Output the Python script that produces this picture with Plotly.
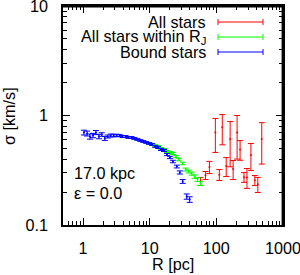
import plotly.graph_objects as go

# ---------------- data ----------------
blue_R = [1.03, 1.15, 1.27, 1.41, 1.56, 1.73, 1.91, 2.12, 2.35, 2.60, 2.88, 3.19,
          3.53, 3.92, 4.34, 4.80, 5.32, 5.89, 6.53, 7.23, 8.01, 8.87, 9.83, 10.9,
          12.1, 13.4, 14.8, 16.4, 18.2, 20.1, 22.3, 25.5, 28.3, 31.3, 35.9, 39.8]
blue_sigma = [0.699, 0.685, 0.643, 0.657, 0.699, 0.643, 0.671, 0.617, 0.643, 0.657,
              0.657, 0.657, 0.657, 0.643, 0.643, 0.630, 0.630, 0.617, 0.604, 0.591,
              0.579, 0.567, 0.555, 0.543, 0.521, 0.510, 0.489, 0.479, 0.440, 0.414,
              0.380, 0.342, 0.302, 0.250, 0.182, 0.171]
blue_err = [0.035, 0.035, 0.035, 0.03, 0.03, 0.03, 0.025, 0.025, 0.02, 0.02,
            0.018, 0.016, 0.015, 0.014, 0.013, 0.012, 0.012, 0.012, 0.011, 0.011,
            0.011, 0.010, 0.010, 0.010, 0.010, 0.010, 0.010, 0.010, 0.010, 0.010,
            0.010, 0.010, 0.010, 0.010, 0.010, 0.010]

green_R = [9.83, 10.9, 12.1, 13.4, 14.8, 16.4, 18.2, 20.1, 22.3, 24.7, 27.4,
           31.3, 34.7, 38.5, 42.6, 47.2, 52.3, 57.9]
green_sigma = [0.555, 0.543, 0.532, 0.521, 0.500, 0.489, 0.469, 0.459, 0.450, 0.422,
               0.396, 0.365, 0.321, 0.308, 0.295, 0.277, 0.260, 0.239]
green_err = [0.010, 0.010, 0.010, 0.010, 0.010, 0.010, 0.010, 0.010, 0.010, 0.010,
             0.010, 0.010, 0.010, 0.010, 0.010, 0.010, 0.010, 0.010]

red_R = [57.9, 68.7, 78.7, 96.6, 110.8, 122.7, 140.6, 161, 178.6, 204.8, 227,
         260, 288, 330, 378, 419, 480]
red_sigma = [0.251, 0.284, 0.338, 0.70, 0.288, 0.78, 0.345, 0.61, 0.324, 0.70,
             0.49, 0.273, 0.272, 0.435, 0.256, 0.235, 0.61]
red_err = [0.021, 0.024, 0.043, 0.24, 0.033, 0.24, 0.068, 0.27, 0.064, 0.30,
           0.10, 0.028, 0.056, 0.12, 0.027, 0.037, 0.25]

x_major = [1, 10, 100, 1000]
x_major_text = ["1", "10", "100", "1000"]
y_major = [0.1, 1, 10]
y_major_text = ["0.1", "1", "10"]

legend_labels = ["All stars", "All stars within R<sub>J</sub>", "Bound stars"]
colors = ["#ff0000", "#00ff00", "#0000ff"]

FONT = "Liberation Sans, Arial, Helvetica, sans-serif"
FS = 16.2

fig = go.Figure()

series = [(red_R, red_sigma, red_err, colors[0]),
          (green_R, green_sigma, green_err, colors[1]),
          (blue_R, blue_sigma, blue_err, colors[2])]
for R, s, e, c in series:
    fig.add_trace(go.Scatter(
        x=R, y=s, mode="markers",
        marker=dict(color=c, size=2),
        error_y=dict(type="data", array=e, visible=True, color=c,
                     thickness=1, width=3),
        showlegend=False,
    ))

x_minor = [m * 10 ** k for k in range(-1, 3) for m in range(2, 10) if m * 10 ** k >= 0.5]
y_minor = [m * 10 ** k for k in range(-1, 1) for m in range(2, 10)]
x_range = [-0.30103, 3]
y_range = [-1, 1]

common = dict(
    type="log", automargin=False, tickmode="array",
    ticks="inside", ticklen=7, tickwidth=1, tickcolor="black",
    showline=True, linecolor="black", linewidth=1.5, mirror="allticks",
    showgrid=False, zeroline=False, ticklabeloverflow="allow",
    tickfont=dict(family=FONT, size=FS, color="black"),
)
xminor = dict(tickmode="array", tickvals=x_minor, ticks="inside", ticklen=4,
              tickwidth=1, tickcolor="black", showgrid=False)
yminor = dict(tickmode="array", tickvals=y_minor, ticks="inside", ticklen=4,
              tickwidth=1, tickcolor="black", showgrid=False)

fig.update_layout(
    xaxis=dict(common, range=x_range, tickvals=x_major, ticktext=x_major_text,
               minor=xminor, ticklabelstandoff=8),
    yaxis=dict(common, range=y_range, tickvals=y_major, ticktext=y_major_text,
               minor=yminor, ticklabelstandoff=10),
)

W, H = 300, 275
L, R_, T, B = 63, 17, 6, 50
pw, ph = W - L - R_, H - T - B

def px(x):
    return (x - L) / pw

def py(y):
    return (H - B - y) / ph

annotations = []
# frame (top and right sides) drawn in axis-domain coordinates, slightly inset
shapes = [
    dict(type="line", xref="x domain", yref="y domain", x0=0, x1=1, y0=0.997, y1=0.997,
         line=dict(color="black", width=1.5), layer="above"),
    dict(type="line", xref="x domain", yref="y domain", x0=0.997, x1=0.997, y0=0, y1=1,
         line=dict(color="black", width=1.5), layer="above"),
]
rows_y = [22, 37, 52]
for lab, c, yy in zip(legend_labels, colors, rows_y):
    annotations.append(dict(x=px(208), y=py(yy), xref="paper", yref="paper",
                            text=lab, showarrow=False, xanchor="right", yanchor="middle",
                            font=dict(family=FONT, size=FS, color="black")))
    shapes.append(dict(type="line", xref="paper", yref="paper",
                       x0=px(218), x1=px(263), y0=py(yy), y1=py(yy),
                       line=dict(color=c, width=1)))
    for xe in (218, 263):
        shapes.append(dict(type="line", xref="paper", yref="paper",
                           x0=px(xe), x1=px(xe), y0=py(yy - 3), y1=py(yy + 3),
                           line=dict(color=c, width=1)))

annotations.append(dict(x=px(72), y=py(173), xref="paper", yref="paper",
                        text="17.0 kpc", showarrow=False, xanchor="left", yanchor="middle",
                        font=dict(family=FONT, size=FS, color="black")))
annotations.append(dict(x=px(72), y=py(193), xref="paper", yref="paper",
                        text="ε = 0.0", showarrow=False, xanchor="left", yanchor="middle",
                        font=dict(family=FONT, size=FS, color="black")))
annotations.append(dict(x=px(173), y=py(264), xref="paper", yref="paper",
                        text="R [pc]", showarrow=False, xanchor="center", yanchor="middle",
                        font=dict(family=FONT, size=FS, color="black")))
annotations.append(dict(x=px(9), y=py(116), xref="paper", yref="paper",
                        text="σ [km/s]", showarrow=False, xanchor="center", yanchor="middle",
                        textangle=-90,
                        font=dict(family=FONT, size=FS, color="black")))

fig.update_layout(
    width=W, height=H,
    margin=dict(l=L, r=R_, t=T, b=B, pad=0, autoexpand=False),
    paper_bgcolor="white", plot_bgcolor="white",
    showlegend=False,
    annotations=annotations, shapes=shapes,
)

fig.write_html(
    "out.html",
    config={"displayModeBar": False},
    post_script="document.body.style.margin='0';document.body.style.overflow='hidden';",
)
